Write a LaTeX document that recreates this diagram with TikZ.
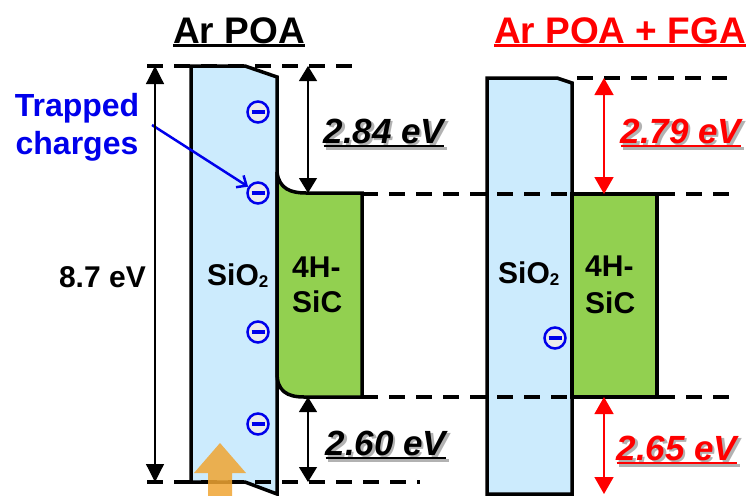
\documentclass[tikz,border=0pt]{standalone}
\usepackage{fontspec}
\setmainfont{Liberation Sans}
\usepackage{tikz}
\usetikzlibrary{
	arrows.meta,
	positioning,
	calc
}
\usepackage{xcolor}

\definecolor{oxide}{RGB}{204,235,253}
\definecolor{sicgreen}{RGB}{146,208,80}
\definecolor{chargeblue}{RGB}{0,0,235}
\definecolor{fgared}{RGB}{255,0,0}
\definecolor{uvorange}{RGB}{240,165,50}

\newcommand{\ulbar}[2][4pt]{\setbox0\hbox{#2}\rlap{\rule[-#1]{\wd0}{2.5pt}}\box0}
\newcommand{\shadowtxt}[1]{\rlap{\kern2.5pt\raisebox{-2.5pt}{\color{black!30}#1}}#1}
\newcommand{\chargebar}{\rule[-1.6pt]{13pt}{3.2pt}}
\newcommand{\subtwo}{\raisebox{-2pt}{\fontsize{17}{18}\selectfont 2}}

\begin{document}
\begin{tikzpicture}[x=1pt,y=-1pt,
		>={Triangle[length=15pt,width=18pt]},
		band/.style={draw=black,line width=3.5pt,line join=miter},
		level/.style={dash pattern=on 16pt off 11pt,line width=3.2pt},
		gap/.style={<->,line width=1.2pt},
		gapred/.style={<->,draw=fgared,line width=1.5pt,>={Triangle[length=17pt,width=19pt]}},
		charge/.style={circle,draw=chargeblue,text=chargeblue,line width=2.5pt,fill=black!8,minimum size=21pt,inner sep=0pt},
		title/.style={font=\fontsize{37}{40}\selectfont\bfseries,anchor=base},
		boxtext/.style={font=\fontsize{30}{34}\selectfont\bfseries,anchor=base west,inner sep=0pt},
		elabel/.style={font=\fontsize{35}{40}\selectfont\bfseries\itshape,anchor=base,inner sep=0pt},
		tclabel/.style={font=\fontsize{32}{38}\selectfont\bfseries,text=chargeblue,align=center,inner sep=0pt}]
		
		\useasboundingbox (0,0) rectangle (751,495);
		
		% titles
		\node[title] (poa) at (239,44) {\ulbar[3pt]{Ar POA}};
		\node[title,text=fgared] (fga) at (620,44) {\ulbar[3pt]{Ar POA + FGA}};
		
		% Ar POA bands
		\draw[band,fill=oxide] (191,66) -- (245,66) -- (277,77) -- (277,494) -- (245,482) -- (191,482) -- cycle;
		\draw[band,fill=sicgreen] (277,172) .. controls (279,189) and (291,193) .. (306,193) -- (362,193)
			-- (362,397) -- (304,397) .. controls (287,397) and (277,391) .. (277,373) -- cycle;
		
		% Ar POA + FGA bands
		\draw[band,fill=oxide] (487,78) -- (557,78) -- (572,83) -- (572,494) -- (487,494) -- cycle;
		\draw[band,fill=sicgreen] (572,194) rectangle (657,397);
		
		% band edges
		\draw[level] (147,66) -- (352,66);
		\draw[level] (362,194) -- (733,194);
		\draw[level] (362,397) -- (733,397);
		\draw[level] (147,482) -- (420,482);
		\draw[level] (577,78) -- (727,78);
		
		% materials
		\node[boxtext] (oxL) at (207,285) {SiO\subtwo};
		\node[boxtext] (sicL) at (292,277) {4H-};
		\node[boxtext] (sicLb) at (292,312) {SiC};
		\node[boxtext] (oxR) at (498,283) {SiO\subtwo};
		\node[boxtext] (sicR) at (585,276) {4H-};
		\node[boxtext] (sicRb) at (585,313) {SiC};
		
		% trapped charges
		\foreach \n/\y in {qa/112,qb/193,qc/332,qd/424}
		\node[charge] (\n) at (258,\y) {\chargebar};
		\node[charge] (qe) at (555,338) {\chargebar};
		
		\node[tclabel] (tc) at (77,127) {Trapped\\charges};
		\coordinate (tcfoot) at (152,125);
		\draw[chargeblue,line width=2.5pt,-{Straight Barb[length=8pt,width=14pt]}] (tcfoot) -- (qb);
		
		% oxide band gap
		\coordinate (gt) at (155,66);
		\coordinate (gb) at (155,482);
		\draw[gap,>={Triangle[length=18pt,width=18pt]}] (gt) -- (gb);
		\node[font=\fontsize{30}{34}\selectfont\bfseries,anchor=base east,inner sep=0pt] (eg) at (146,287) {8.7 eV};
		
		% offsets, Ar POA
		\coordinate (c1t) at (308,66);
		\coordinate (c1b) at (308,193);
		\coordinate (v1t) at (308,397);
		\coordinate (v1b) at (308,482);
		\draw[gap] (c1t) -- (c1b);
		\draw[gap] (v1t) -- (v1b);
		\node[elabel] (dc1) at (384,143) {\shadowtxt{\ulbar{2.84 eV}}};
		\node[elabel] (dv1) at (386,455) {\shadowtxt{\ulbar{2.60 eV}}};
		
		% offsets, Ar POA + FGA
		\coordinate (c2t) at (604,78);
		\coordinate (c2b) at (604,194);
		\coordinate (v2t) at (604,397);
		\coordinate (v2b) at (604,494);
		\draw[gapred] (c2t) -- (c2b);
		\draw[gapred] (v2t) -- (v2b);
		\node[elabel,text=fgared] (dc2) at (681,143) {\shadowtxt{\ulbar{2.79 eV}}};
		\node[elabel,text=fgared] (dv2) at (677,460) {\shadowtxt{\ulbar{2.65 eV}}};
		
		% light
		\fill[uvorange,opacity=0.85] (208,496) -- (208,473) -- (194,473) -- (220,443) -- (246,473) -- (232,473) -- (232,496) -- cycle;
		
	\end{tikzpicture}
\end{document}
